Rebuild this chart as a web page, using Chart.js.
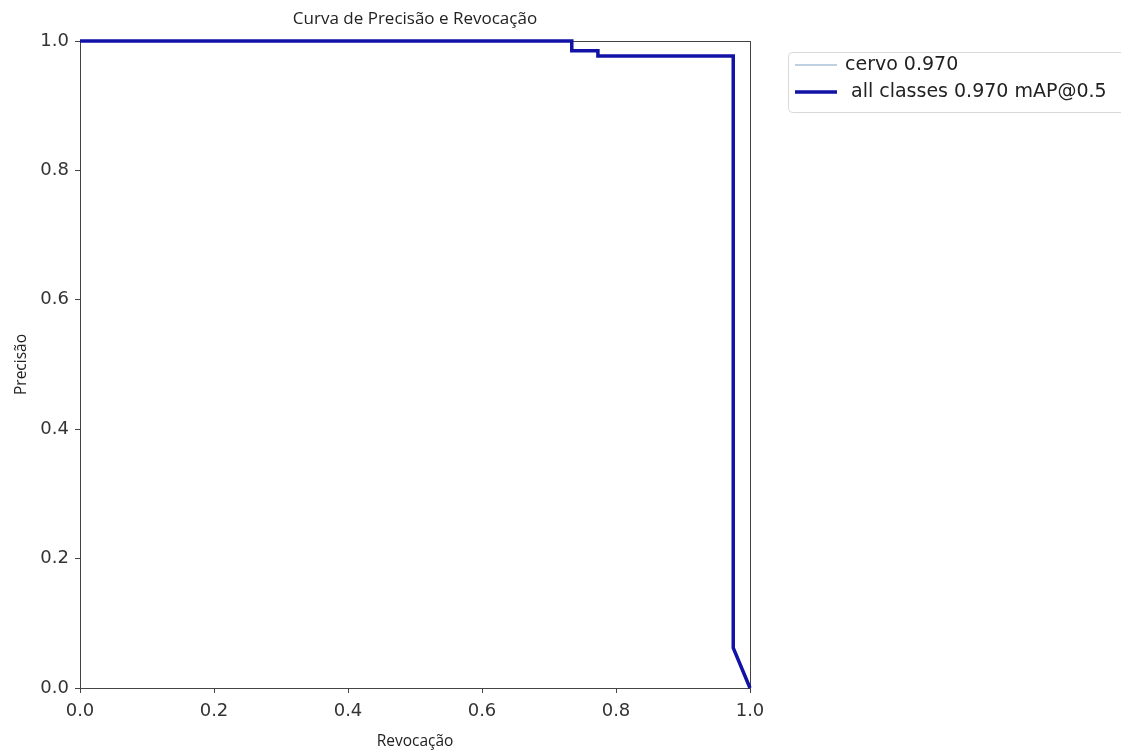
<!DOCTYPE html>
<html>
<head>
<meta charset="utf-8">
<script src="https://cdn.jsdelivr.net/npm/chart.js@4"></script>
<style>
  html, body { margin: 0; padding: 0; background: #fff; }
  #wrap { width: 1121px; height: 753px; position: relative; }
</style>
</head>
<body>
<div id="wrap"><canvas id="prChart"></canvas></div>
<script>
// dados (curva PR, classe unica "cervo")
const recall    = [0, 0.734, 0.734, 0.773, 0.773, 0.975, 0.975, 1.0];
const precision = [1, 1,     0.985, 0.985, 0.977, 0.977, 0.062, 0.0];
const seriesLabels = ['cervo 0.970', 'all classes 0.970 mAP@0.5'];
const tickValues = [0, 0.2, 0.4, 0.6, 0.8, 1.0];

const pts = recall.map((r, i) => ({ x: r, y: precision[i] }));

// moldura + titulo + legenda desenhados a mao (estilo matplotlib)
const mplPlugin = {
  id: 'mpl',
  beforeDatasetsDraw(chart) {
    const { ctx, chartArea: a } = chart;
    ctx.save();
    ctx.strokeStyle = '#444';
    ctx.lineWidth = 1;
    ctx.strokeRect(a.left + 0.5, a.top + 0.5, a.right - a.left, a.bottom - a.top);
    ctx.restore();
  },
  afterDraw(chart) {
    const { ctx, chartArea: a } = chart;
    ctx.save();
    ctx.fillStyle = '#222';
    ctx.font = '17px "Open Sans"';
    ctx.textAlign = 'center';
    ctx.textBaseline = 'middle';
    ctx.fillText('Curva de Precisão e Revocação', (a.left + a.right) / 2, 19);

    // legenda
    ctx.strokeStyle = '#d8d8d8';
    ctx.lineWidth = 1;
    ctx.beginPath();
    ctx.roundRect(788.5, 52.5, 345, 60, 4);
    ctx.stroke();
    ctx.font = '19px "DejaVu Sans"';
    ctx.textAlign = 'left';
    const ds = chart.data.datasets;
    const rows = [65, 92];
    ds.forEach((d, i) => {
      ctx.strokeStyle = d.borderColor;
      ctx.lineWidth = d.borderWidth;
      ctx.beginPath();
      ctx.moveTo(795, rows[i]);
      ctx.lineTo(837, rows[i]);
      ctx.stroke();
      ctx.fillStyle = '#222';
      ctx.fillText(d.label, i === 0 ? 845 : 851, rows[i]);
    });
    ctx.restore();
  }
};

new Chart(document.getElementById('prChart'), {
  type: 'scatter',
  data: {
    datasets: [
      {
        label: seriesLabels[0],
        data: pts,
        showLine: true,
        borderColor: '#7fa3c2',
        borderWidth: 1,
        pointRadius: 0,
        clip: 4,
        order: 2
      },
      {
        label: seriesLabels[1],
        data: pts,
        showLine: true,
        borderColor: '#1212a6',
        borderWidth: 3.5,
        pointRadius: 0,
        clip: 4,
        order: 1
      }
    ]
  },
  options: {
    responsive: true,
    maintainAspectRatio: false,
    animation: false,
    layout: { padding: { top: 41, right: 371, left: 0, bottom: 0 } },
    plugins: {
      legend: { display: false },
      title: { display: false },
      tooltip: { enabled: false }
    },
    scales: {
      x: {
        type: 'linear',
        min: 0, max: 1,
        afterBuildTicks: s => { s.ticks = tickValues.map(v => ({ value: v })); },
        afterFit: s => { s.height = 65; },
        grid: { drawOnChartArea: false, tickLength: 5, color: '#444' },
        border: { color: '#444' },
        ticks: {
          color: '#333',
          font: { family: 'DejaVu Sans', size: 18 },
          padding: 8,
          callback: v => v.toFixed(1)
        },
        title: {
          display: true,
          text: 'Revocação',
          color: '#222',
          font: { family: 'Open Sans', size: 15.5 },
          padding: { top: 0, bottom: 2 }
        }
      },
      y: {
        type: 'linear',
        min: 0, max: 1,
        afterBuildTicks: s => { s.ticks = tickValues.map(v => ({ value: v })); },
        afterFit: s => { s.width = 80; },
        grid: { drawOnChartArea: false, tickLength: 5, color: '#444' },
        border: { color: '#444' },
        ticks: {
          color: '#333',
          font: { family: 'DejaVu Sans', size: 18 },
          padding: 6,
          callback: v => v.toFixed(1)
        },
        title: {
          display: true,
          text: 'Precisão',
          color: '#222',
          font: { family: 'Open Sans', size: 15.5 },
          padding: { top: 12, bottom: 0 }
        }
      }
    }
  },
  plugins: [mplPlugin]
});
</script>
</body>
</html>
